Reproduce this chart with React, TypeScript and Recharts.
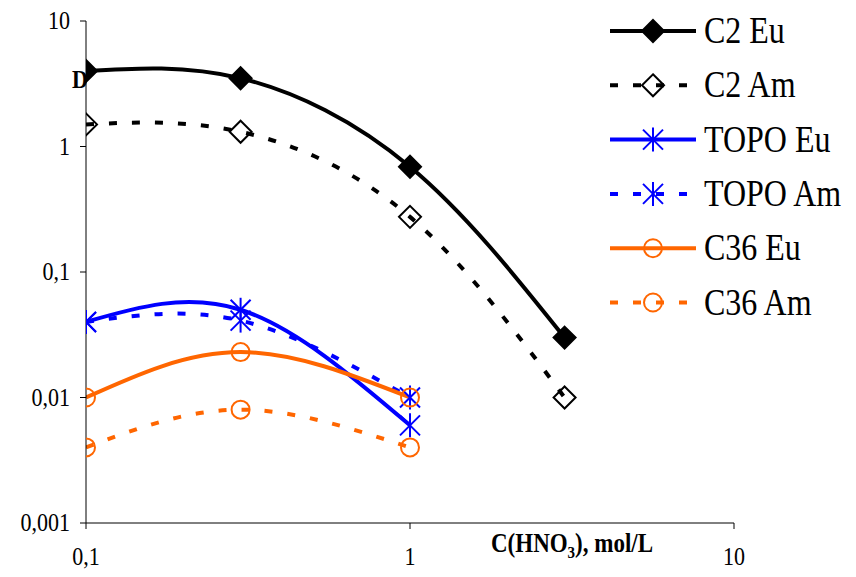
import React from "react"
import { LineChart, Line, XAxis, YAxis } from "recharts"

// values
const xValues = [0.1, 0.3, 1, 3]
const c2Eu = [4, 3.5, 0.69, 0.03]
const c2Am = [1.5, 1.31, 0.275, 0.01]
const topoEu = [0.04, 0.05, 0.006]
const topoAm = [0.04, 0.041, 0.01]
const c36Eu = [0.01, 0.023, 0.01]
const c36Am = [0.004, 0.008, 0.004]

const xTicks = [0.1, 1, 10]
const yTicks = [0.001, 0.01, 0.1, 1, 10]

const FONT = '"Liberation Serif", "Times New Roman", serif'
const STRETCH = 1.17

const BLACK = "#000000"
const BLUE = "#0000ff"
const ORANGE = "#ff6600"

type Marker = "diamondFilled" | "diamondOpen" | "star" | "circle"

const series: { key: string; name: string; color: string; dash?: string; marker: Marker }[] = [
  { key: "c2Eu", name: "C2 Eu", color: BLACK, marker: "diamondFilled" },
  { key: "c2Am", name: "C2 Am", color: BLACK, dash: "8 15", marker: "diamondOpen" },
  { key: "topoEu", name: "TOPO Eu", color: BLUE, marker: "star" },
  { key: "topoAm", name: "TOPO Am", color: BLUE, dash: "8 15", marker: "star" },
  { key: "c36Eu", name: "C36 Eu", color: ORANGE, marker: "circle" },
  { key: "c36Am", name: "C36 Am", color: ORANGE, dash: "8 15", marker: "circle" },
]

const data = xValues.map((x, i) => ({
  x,
  c2Eu: c2Eu[i] ?? null,
  c2Am: c2Am[i] ?? null,
  topoEu: topoEu[i] ?? null,
  topoAm: topoAm[i] ?? null,
  c36Eu: c36Eu[i] ?? null,
  c36Am: c36Am[i] ?? null,
}))

const fmt = (v: number) => String(v).replace(".", ",")

function drawMarker(marker: Marker, color: string, cx: number, cy: number, key?: string) {
  if (marker === "diamondFilled" || marker === "diamondOpen") {
    const r = 11
    return (
      <path
        key={key}
        d={`M${cx},${cy - r}L${cx + r},${cy}L${cx},${cy + r}L${cx - r},${cy}Z`}
        fill={marker === "diamondFilled" ? color : "none"}
        stroke={color}
        strokeWidth={2}
      />
    )
  }
  if (marker === "star") {
    return (
      <g key={key} stroke={color} strokeWidth={2}>
        <line x1={cx} y1={cy - 12} x2={cx} y2={cy + 12} />
        <line x1={cx - 10} y1={cy - 10} x2={cx + 10} y2={cy + 10} />
        <line x1={cx - 10} y1={cy + 10} x2={cx + 10} y2={cy - 10} />
      </g>
    )
  }
  return <circle key={key} cx={cx} cy={cy} r={9} fill="none" stroke={color} strokeWidth={2} />
}

function YTick(props: any) {
  const { x, y, payload } = props
  return (
    <text
      transform={`translate(${x - 8},${y + 8}) scale(1,${STRETCH})`}
      textAnchor="end"
      fontFamily={FONT}
      fontSize={22}
      fill="#000"
    >
      {fmt(payload.value)}
    </text>
  )
}

function XTick(props: any) {
  const { x, payload } = props
  return (
    <text
      transform={`translate(${x},565) scale(1,${STRETCH})`}
      textAnchor="middle"
      fontFamily={FONT}
      fontSize={22}
      fill="#000"
    >
      {fmt(payload.value)}
    </text>
  )
}

function LegendBox() {
  return (
    <svg width={256} height={330} style={{ position: "absolute", left: 600, top: 0 }}>
      {series.map((s, i) => {
        const y = 31 + i * 54.3
        return (
          <g key={s.key}>
            <line x1={10} x2={96} y1={y} y2={y} stroke={s.color} strokeWidth={4} strokeDasharray={s.dash} />
            {drawMarker(s.marker, s.color, 53, y)}
            <text
              transform={`translate(104,${y + 12}) scale(1,${STRETCH})`}
              fontFamily={FONT}
              fontSize={32}
              fill="#000"
            >
              {s.name}
            </text>
          </g>
        )
      })}
    </svg>
  )
}

export default function App() {
  return (
    <div style={{ position: "fixed", left: 0, top: 0, width: 856, height: 577, background: "#fff" }}>
      <LineChart width={856} height={577} data={data} margin={{ top: 21, right: 122, bottom: 0, left: 0 }}>
        <XAxis
          dataKey="x"
          type="number"
          scale="log"
          domain={[0.1, 10]}
          ticks={xTicks}
          allowDataOverflow
          height={54}
          stroke="#000"
          tickSize={6}
          tick={<XTick />}
          label={{
            content: () => (
              <text
                transform={`translate(491,552) scale(1,${STRETCH})`}
                fontFamily={FONT}
                fontSize={23}
                fontWeight="bold"
                fill="#000"
              >
                C(HNO
                <tspan fontSize={15} dy={5}>3</tspan>
                <tspan dy={-5}>), mol/L</tspan>
              </text>
            ),
          }}
        />
        <YAxis
          scale="log"
          domain={[0.001, 10]}
          ticks={yTicks}
          allowDataOverflow
          width={86}
          stroke="#000"
          tickSize={6}
          tick={<YTick />}
          label={{
            content: () => (
              <text
                transform={`translate(72,88) scale(1,${STRETCH})`}
                fontFamily={FONT}
                fontSize={22}
                fontWeight="bold"
                fill="#000"
              >
                D
              </text>
            ),
          }}
        />
        {series.map((s) => (
          <Line
            key={s.key}
            dataKey={s.key}
            type="natural"
            stroke={s.color}
            strokeWidth={4}
            strokeDasharray={s.dash}
            isAnimationActive={false}
            dot={(p: any) => {
              const k = `${s.key}-${p.index}`
              if (p.cx == null || p.cy == null || p.value == null) return <g key={k} />
              return drawMarker(s.marker, s.color, p.cx, p.cy, k)
            }}
            activeDot={false}
          />
        ))}
      </LineChart>
      <LegendBox />
    </div>
  )
}
